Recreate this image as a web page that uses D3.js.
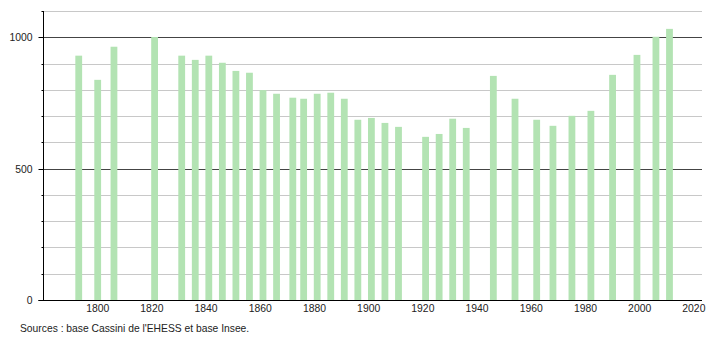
<!DOCTYPE html>
<html>
<head>
<meta charset="utf-8">
<script src="https://cdn.jsdelivr.net/npm/d3@7"></script>
<style>
  body { margin: 0; background: #fff; }
  text { font-family: "Liberation Sans", Arial, sans-serif; }
</style>
</head>
<body>
<div id="chart"></div>
<script>
// data
const years = [1793, 1800, 1806, 1821, 1831, 1836, 1841, 1846, 1851, 1856, 1861, 1866, 1872, 1876,
  1881, 1886, 1891, 1896, 1901, 1906, 1911, 1921, 1926, 1931, 1936, 1946, 1954, 1962, 1968,
  1975, 1982, 1990, 1999, 2006, 2011];
const population = [930, 838, 964, 1001, 930, 914, 930, 903, 872, 865, 799, 785, 770, 766,
  785, 789, 766, 686, 693, 674, 659, 621, 632, 690, 655, 853, 766, 686, 663,
  701, 720, 857, 933, 1002, 1032];
const xTicks = [1800, 1820, 1840, 1860, 1880, 1900, 1920, 1940, 1960, 1980, 2000, 2020];
const yMajor = [0, 500, 1000];
const yMinor = [100, 200, 300, 400, 600, 700, 800, 900, 1100];
const source = "Sources : base Cassini de l'EHESS et base Insee.";

const W = 710, H = 340;
const svg = d3.select("#chart").append("svg")
  .attr("width", W)
  .attr("height", H);

const x = d3.scaleLinear().domain([1780, 2023]).range([43.5, 702]);
const y = d3.scaleLinear().domain([0, 1100]).range([300, 11]);

// gridlines
svg.append("g")
  .selectAll("line")
  .data(yMinor)
  .enter()
  .append("line")
  .attr("x1", 43.5)
  .attr("x2", 702)
  .attr("y1", d => Math.round(y(d)) + 0.5)
  .attr("y2", d => Math.round(y(d)) + 0.5)
  .attr("stroke", "#c8c8c8")
  .attr("stroke-width", 1);

svg.append("g")
  .selectAll("line")
  .data(yMajor.filter(d => d > 0))
  .enter()
  .append("line")
  .attr("x1", 43.5)
  .attr("x2", 702)
  .attr("y1", d => Math.round(y(d)) + 0.5)
  .attr("y2", d => Math.round(y(d)) + 0.5)
  .attr("stroke", "#444")
  .attr("stroke-width", 1);

// bars
svg.append("g")
  .selectAll("rect")
  .data(years)
  .enter()
  .append("rect")
  .attr("x", d => x(d) - 3.4)
  .attr("width", 6.8)
  .attr("y", (d, i) => y(population[i]))
  .attr("height", (d, i) => y(0) - y(population[i]))
  .attr("fill", "#b3e3b3");

// y axis
const yAxis = svg.append("g").attr("transform", "translate(43.5,0)");
yAxis.append("line")
  .attr("y1", y(1100)).attr("y2", 300.5)
  .attr("stroke", "#000");
yAxis.selectAll(".minor")
  .data(yMinor)
  .enter()
  .append("line")
  .attr("x1", -2).attr("x2", 0)
  .attr("y1", d => Math.round(y(d)) + 0.5)
  .attr("y2", d => Math.round(y(d)) + 0.5)
  .attr("stroke", "#000");
yAxis.selectAll(".major")
  .data(yMajor)
  .enter()
  .append("line")
  .attr("x1", -5).attr("x2", 0)
  .attr("y1", d => Math.round(y(d)) + 0.5)
  .attr("y2", d => Math.round(y(d)) + 0.5)
  .attr("stroke", "#000");
yAxis.selectAll("text")
  .data(yMajor)
  .enter()
  .append("text")
  .attr("x", -11)
  .attr("y", d => y(d) + 4)
  .attr("text-anchor", "end")
  .attr("font-size", "10.4px")
  .attr("fill", "#222")
  .text(d => d);

// x axis
svg.append("line")
  .attr("x1", 38.5).attr("x2", 702)
  .attr("y1", 300.5).attr("y2", 300.5)
  .attr("stroke", "#000");
svg.append("g")
  .selectAll("text")
  .data(xTicks)
  .enter()
  .append("text")
  .attr("x", d => x(d))
  .attr("y", 312)
  .attr("text-anchor", "middle")
  .attr("font-size", "10.4px")
  .attr("fill", "#222")
  .text(d => d);

svg.append("text")
  .attr("x", 20)
  .attr("y", 332)
  .attr("font-size", "10.3px")
  .attr("fill", "#222")
  .text(source);
</script>
</body>
</html>
